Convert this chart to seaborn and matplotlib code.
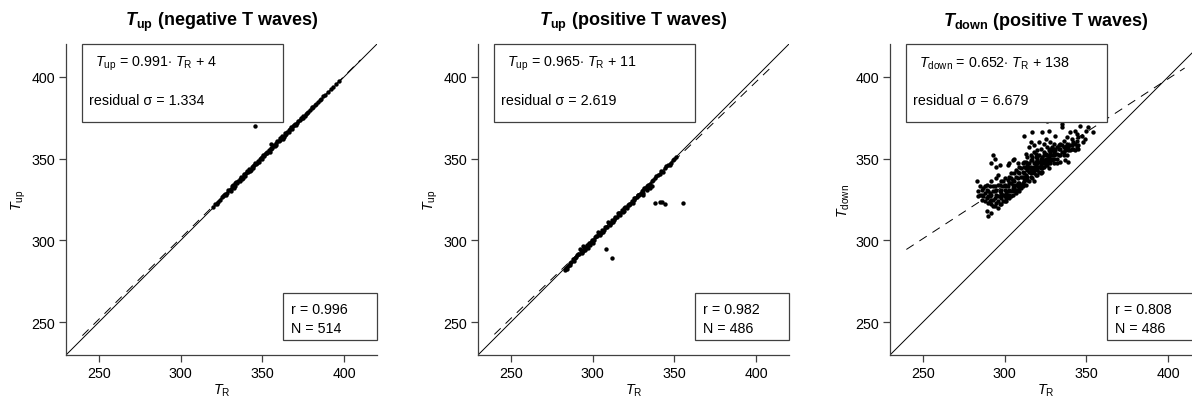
import numpy as np
import pandas as pd
import matplotlib
matplotlib.use("Agg")
import matplotlib.pyplot as plt
import seaborn as sns
from matplotlib.patches import Rectangle

# ---------- data ----------
neg_tr = [320, 321, 322, 324, 325, 326, 327, 328, 329, 330, 331, 332, 333, 334, 335, 336, 337, 338,
          339, 340, 341, 342, 343, 344, 345, 346, 347, 348, 349, 350, 351, 352, 353, 354, 355, 356,
          357, 358, 359, 360, 361, 362, 363, 364, 365, 366, 367, 368, 369, 370, 371, 372, 373, 374,
          375, 376, 377, 378, 380, 381, 382, 383, 385, 386, 388, 390, 392, 395, 397,
          330.5, 333.5, 336.5, 339.5, 342.5, 345.5, 348.5, 351.5, 354.5, 357.5, 360.5, 363.5, 366.5,
          323, 326.5, 328.5, 331.5, 334.5, 337.5, 340.5, 343.5, 346.5, 349.5, 352.5, 355.5, 358.5,
          361.5, 364.5, 367.5, 370.5, 373.5, 376.5, 379, 384, 387, 393, 332.5, 338.5, 344.5, 350.5,
          356.5, 362.5, 368.5, 374.5, 380.5,
          345.2, 355]
neg_up = [320.5, 322.5, 322, 324.8, 326.5, 327, 328.5, 328, 330.5, 331, 331.5, 333.8, 333.5, 335.5,
          336, 336.5, 338.5, 338, 340.5, 341, 341.5, 343.5, 343.2, 345.5, 346, 346.5, 348.5, 348,
          350.5, 351, 351.5, 353.5, 353.2, 355.5, 356, 356.5, 358.5, 358, 360.5, 361, 361.5, 363.5,
          363.2, 365.5, 366, 366.5, 368.2, 368, 370.3, 371, 371.5, 372.8, 373.5, 375, 376, 376.2,
          378, 378.5, 381, 381.5, 383, 383.5, 386, 386.5, 388.8, 390.5, 392.8, 395.5, 397.2,
          330.2, 335, 337.8, 339.5, 342.5, 347.2, 349.5, 352.8, 354.2, 357.5, 362.3, 364.5, 367.5,
          323.5, 328, 329.2, 333, 335.2, 337.5, 342.3, 344.8, 347.2, 349.8, 354.3, 356.2, 359.5,
          362.8, 365.2, 369, 370.5, 374.8, 377.5, 379.5, 384.5, 388, 393.8, 332.2, 339.8, 344.5, 352.2,
          357.8, 362.2, 369.8, 374.5, 381.8,
          370, 359]

pos_tr = [283, 284, 285, 286, 287, 288, 289, 290, 291, 292, 293, 294, 295, 296, 297, 298, 299, 300,
          301, 302, 303, 304, 305, 306, 307, 308, 309, 310, 311, 312, 313, 314, 315, 316, 317, 318,
          319, 320, 321, 322, 323, 324, 325, 326, 327, 328, 329, 330, 331, 332, 333, 334, 335, 337,
          338, 340, 342, 344, 346, 348, 350, 351,
          292.5, 295.5, 298.5, 303.5, 306.5, 309.5, 312.5, 315.5, 318.5, 321.5, 324.5, 327.5, 330.5,
          333.5, 336,
          284.5, 286.5, 288.5, 290.5, 293.5, 296.5, 299.5, 301.5, 304.5, 307.5, 310.5, 313.5, 316.5,
          319.5, 322.5, 325.5, 328.5, 331.5, 334.5, 336.5, 339, 341, 343, 345, 347, 349, 294, 297,
          300, 331, 333, 335,
          308, 312, 338, 341, 342.5, 344, 355]
pos_up = [282, 283, 284.5, 285, 287, 288.5, 289, 290, 291.5, 292, 294, 293.5, 296, 295.5, 297, 298.5,
          299, 300.5, 300, 302.5, 302.5, 304.5, 304.5, 306.5, 306.5, 308.5, 308.5, 310.5, 310.5,
          312.5, 312.5, 314.5, 314.5, 316.5, 316.5, 318.5, 318, 320.5, 320, 322, 322.5, 324, 324.5,
          326, 326.5, 328, 328.5, 330, 330.5, 332, 332, 334, 334.5, 337, 338, 340, 342.5, 344, 346,
          347.5, 350, 351,
          294.5, 294, 297.5, 305, 305, 311, 311.5, 316.5, 317.5, 321.5, 323, 327.5, 329, 333.5, 333,
          282.5, 286.5, 287.5, 291, 292.5, 297, 300, 302, 303.5, 308, 309.5, 314, 315.5,
          320, 321.5, 326, 327.5, 332, 333.5, 336, 339.5, 340.5, 342, 345.5, 346, 349, 296.5, 295.5,
          298.5, 328, 330.5, 332,
          295, 289, 323, 323.5, 323.5, 322.5, 323]

down_tr = [283, 284, 285, 286, 287, 288, 289, 290, 288, 286, 289, 290, 292, 293, 291, 292,
           293, 294, 292, 295, 297, 295, 296, 297, 298, 299, 294, 296, 297, 298, 299, 300, 300, 295,
           293, 291, 292, 294, 296, 298, 300,
           301, 302, 303, 304, 305, 306, 307, 308, 309, 310, 301, 302, 303, 304, 305, 306, 307, 308,
           309, 310, 302, 303, 305, 306, 308, 304, 307, 309, 303,
           311, 312, 313, 314, 315, 316, 317, 318, 319, 320, 311, 312, 313, 314, 315, 316, 317, 318,
           319, 320, 312, 315, 317, 316, 318, 319, 311, 313, 314, 320, 316, 318, 320,
           321, 322, 323, 324, 325, 326, 327, 328, 329, 330, 321, 322, 323, 324, 325, 326, 327, 328,
           329, 330, 321, 323, 325, 327, 329, 322, 324, 326, 328, 330,
           331, 332, 333, 334, 335, 336, 337, 338, 339, 340, 331, 333, 335, 335, 336, 338, 340, 332,
           334, 337, 339,
           341, 342, 343, 344, 345, 342, 343, 346, 347, 349, 351, 354, 341, 345, 348, 344, 350,
           288, 289, 290, 291, 292, 293, 294, 295, 296, 297, 298, 299, 300, 301, 302, 303, 304, 305,
           306, 307, 308, 309, 310, 311, 312, 313, 314, 315, 316, 317, 318, 319, 320, 321, 322, 323,
           324, 325, 326, 327, 328, 329, 330, 331, 332, 333, 334, 335, 336, 337, 338, 339, 340, 341,
           342, 343, 344, 345,
           312, 314, 316, 318, 320, 322, 324, 326, 328, 330, 317, 319, 321, 323, 325, 327, 329, 313,
           315, 311, 309, 307, 305, 303, 301, 299, 297, 295, 293, 291, 289, 287, 285, 284, 286, 290,
           292, 294, 296, 298, 300, 302, 304, 306, 308, 310, 312, 314, 316, 318, 320, 322, 324, 326,
           328, 330, 332, 334, 336, 338]
down_y = [336, 330, 328, 331, 327, 329, 326, 330, 333, 325, 318, 315, 317, 321, 333, 328,
          352, 350, 347, 345, 346, 338, 334, 330, 326, 324, 330, 327, 322, 329, 333, 331, 327, 323,
          325, 324, 336, 333, 340, 336, 338,
          329, 333, 331, 335, 332, 336, 334, 338, 335, 339, 324, 327, 326, 330, 328, 330, 331, 333,
          332, 334, 346, 347, 349, 350, 347, 341, 343, 345, 339,
          335, 338, 340, 337, 342, 339, 344, 341, 346, 343, 342, 345, 348, 351, 347, 352, 349, 354,
          351, 355, 364, 357, 366, 360, 358, 348, 347, 353, 344, 349, 345, 336, 340,
          345, 348, 351, 347, 353, 350, 355, 352, 357, 354, 352, 356, 342, 359, 346, 373, 367, 360,
          349, 359, 360, 366, 362, 344, 352, 341, 354, 357, 347, 350,
          353, 350, 356, 352, 358, 354, 357, 352, 355, 358, 364, 358, 371, 369, 361, 363, 366, 347,
          348, 349, 348,
          356, 360, 355, 357, 358, 374, 367, 370, 364, 362, 369, 366, 362, 363, 360, 365, 367,
          324, 331, 327, 329, 325, 330, 326, 328, 324, 327, 331, 328, 324, 326, 330, 328, 327, 334,
          332, 329, 335, 330, 332, 333, 336, 334, 339, 336, 341, 338, 343, 340, 345, 342, 346, 344,
          349, 347, 352, 349, 354, 350, 352, 355, 353, 352, 356, 354, 357, 355, 359, 357, 355, 358,
          356, 359, 361, 356,
          348, 346, 349, 347, 351, 350, 352, 346, 349, 347, 351, 353, 348, 347, 350, 351, 355, 344,
          345, 339, 341, 339, 337, 335, 333, 336, 334, 331, 333, 327, 334, 332, 333, 327, 328, 323,
          322, 321, 320, 322, 334, 337, 338, 341, 342, 344, 341, 343, 343, 345, 347, 344, 345, 348,
          356, 356, 357, 359, 352, 356]

titles = [r"$\mathbfit{T}_{\mathbf{up}}$ (negative T waves)",
          r"$\mathbfit{T}_{\mathbf{up}}$ (positive T waves)",
          r"$\mathbfit{T}_{\mathbf{down}}$ (positive T waves)"]
ylabels = [r"$T_{\mathrm{up}}$", r"$T_{\mathrm{up}}$", r"$T_{\mathrm{down}}$"]
slopes = [0.991, 0.965, 0.652]
intercepts = [4, 11, 138]
fit_texts = [r"$T_{\mathrm{up}}$ = 0.991$\cdot$ $T_{\mathrm{R}}$ + 4",
             r"$T_{\mathrm{up}}$ = 0.965$\cdot$ $T_{\mathrm{R}}$ + 11",
             r"$T_{\mathrm{down}}$ = 0.652$\cdot$ $T_{\mathrm{R}}$ + 138"]
sigmas = ["1.334", "2.619", "6.679"]
r_vals = ["0.996", "0.982", "0.808"]
n_vals = [514, 486, 486]
ticks = [250, 300, 350, 400]

sns.set_style("ticks")
plt.rcParams["font.family"] = ["Liberation Sans", "DejaVu Sans"]
plt.rcParams["mathtext.fontset"] = "custom"
plt.rcParams["mathtext.rm"] = "Liberation Sans"
plt.rcParams["mathtext.it"] = "Liberation Sans:italic"
plt.rcParams["mathtext.bf"] = "Liberation Sans:bold"
plt.rcParams["mathtext.bfit"] = "Liberation Sans:bold:italic"
plt.rcParams["text.color"] = "black"
plt.rcParams["axes.labelcolor"] = "black"

fig = plt.figure(figsize=(11.92, 4.10), dpi=100)
lefts = [66 / 1192, 478 / 1192, 890 / 1192]
gray = "#404040"
fs = 10.3

panels = [(neg_tr, neg_up), (pos_tr, pos_up), (down_tr, down_y)]

for i, (xs, ys) in enumerate(panels):
    ax = fig.add_axes([lefts[i], 54 / 410, 311 / 1192, 311 / 410])
    df = pd.DataFrame({"TR": xs, "T": ys})
    sns.scatterplot(data=df, x="TR", y="T", ax=ax, color="black", s=10,
                    linewidth=0, marker="o", zorder=3)

    ax.plot([230, 420], [230, 420], color="black", lw=0.7, zorder=2)
    fx = np.array([240, 410])
    ax.plot(fx, slopes[i] * fx + intercepts[i], color="black", lw=0.7,
            dashes=(9, 7), zorder=2)

    ax.set_xlim(230, 420)
    ax.set_ylim(230, 420)
    ax.set_xticks(ticks)
    ax.set_yticks(ticks)
    ax.tick_params(labelsize=fs, length=5, width=0.9, color=gray,
                   labelcolor="black", pad=3)
    for s in ["top", "right"]:
        ax.spines[s].set_visible(False)
    for s in ["left", "bottom"]:
        ax.spines[s].set_color(gray)
        ax.spines[s].set_linewidth(0.9)

    ax.set_title(titles[i], fontsize=13, fontweight="bold", pad=14, color="black")
    ax.set_xlabel(r"$T_{\mathrm{R}}$", fontsize=fs, labelpad=1)
    ax.set_ylabel(ylabels[i], fontsize=fs, labelpad=2)

    # legend style boxes
    ax.add_patch(Rectangle((239.5, 372.6), 123, 47.4, facecolor="white",
                           edgecolor=gray, lw=0.9, zorder=5, clip_on=False))
    ax.text(247.8, 408.6, fit_texts[i], fontsize=fs, va="center", zorder=6)
    ax.text(244, 386, "residual σ = " + sigmas[i], fontsize=fs, va="center", zorder=6)

    ax.add_patch(Rectangle((362.5, 239.1), 57.5, 28.7, facecolor="white",
                           edgecolor=gray, lw=0.9, zorder=5, clip_on=False))
    ax.text(367.2, 258, "r = " + r_vals[i], fontsize=fs, va="center", zorder=6)
    ax.text(367.2, 246.5, "N = " + str(n_vals[i]), fontsize=fs, va="center", zorder=6)

plt.savefig("out.png", dpi=100)
